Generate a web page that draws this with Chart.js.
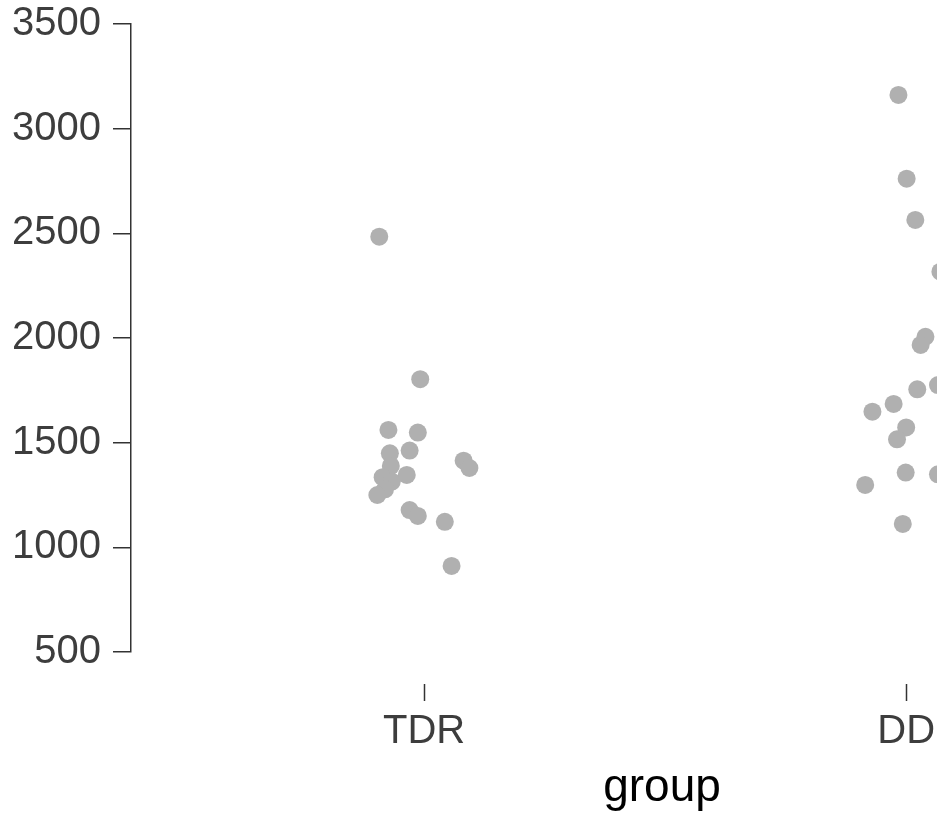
<!DOCTYPE html>
<html>
<head>
<meta charset="utf-8">
<script src="https://cdn.jsdelivr.net/npm/chart.js@4"></script>
<style>
  html, body { margin: 0; background: #fff; overflow: hidden; }
  /* the figure is wider than the window; the right part is cut off */
  #wrap { width: 1193px; height: 816px; }
</style>
</head>
<body>
<div id="wrap"><canvas id="chart"></canvas></div>
<script>
const groups = ["TDR", "DD"];
const yTicks = [500, 1000, 1500, 2000, 2500, 3000, 3500];

// jittered x position around the group index (1 = TDR, 2 = DD), and y value
const tdrX = [0.907, 0.992, 0.926, 0.987, 0.970, 0.929, 1.082, 1.094, 0.931, 0.964,
  0.914, 0.933, 0.919, 0.903, 0.970, 0.987, 1.043, 1.057];
const tdrY = [2484, 1803, 1561, 1548, 1462, 1449, 1414, 1379, 1389, 1346,
  1335, 1314, 1277, 1250, 1178, 1150, 1122, 911];

const ddX = [1.984, 2.001, 2.019, 2.071, 2.040, 2.030, 2.023, 2.066, 1.974, 1.930,
  2.000, 1.981, 1.999, 2.066, 1.915, 1.993];
const ddY = [3161, 2761, 2564, 2317, 2006, 1967, 1755, 1775, 1685, 1648,
  1573, 1516, 1357, 1349, 1298, 1112];

const axisColor = "#333333";
const textColor = "#3d3d3d";
const pointColor = "#b0b0b0";

function toPoints(xs, ys) {
  return xs.map((x, i) => ({ x: x, y: ys[i] }));
}

// small tick marks under each group, set a little below the plot
const xTickMarks = {
  id: "xTickMarks",
  afterDraw(chart) {
    const { ctx, chartArea, scales } = chart;
    ctx.save();
    ctx.strokeStyle = axisColor;
    ctx.lineWidth = 1.5;
    scales.x.ticks.forEach((t) => {
      const px = Math.round(scales.x.getPixelForValue(t.value)) + 0.5;
      ctx.beginPath();
      ctx.moveTo(px, chartArea.bottom + 32);
      ctx.lineTo(px, chartArea.bottom + 49);
      ctx.stroke();
    });
    ctx.restore();
  },
};

new Chart(document.getElementById("chart"), {
  type: "scatter",
  data: {
    datasets: [
      {
        label: "TDR",
        data: toPoints(tdrX, tdrY),
        backgroundColor: pointColor,
        borderWidth: 0,
        pointRadius: 9,
      },
      {
        label: "DD",
        data: toPoints(ddX, ddY),
        backgroundColor: pointColor,
        borderWidth: 0,
        pointRadius: 9,
      },
    ],
  },
  options: {
    responsive: true,
    maintainAspectRatio: false,
    animation: false,
    events: [],
    layout: { autoPadding: false, padding: { top: 24, left: 0, right: 0, bottom: 0 } },
    plugins: {
      legend: { display: false },
      tooltip: { enabled: false },
    },
    scales: {
      x: {
        type: "linear",
        min: 0.392,
        max: 2.595,
        afterBuildTicks: (scale) => {
          scale.ticks = groups.map((g, i) => ({ value: i + 1 }));
        },
        afterFit: (scale) => {
          scale.height = 164;
          scale.paddingLeft = 0;
          scale.paddingRight = 0;
        },
        grid: { display: false, drawTicks: true, tickLength: 50 },
        border: { display: false },
        ticks: {
          autoSkip: false,
          maxRotation: 0,
          padding: 6,
          color: textColor,
          font: { family: "Liberation Sans", size: 40 },
          callback: (v) => groups[v - 1],
        },
        title: {
          display: true,
          text: "group",
          color: "#000",
          padding: { top: 4, bottom: 0 },
          font: { family: "Liberation Sans", size: 46 },
        },
      },
      y: {
        min: 500,
        max: 3500,
        afterBuildTicks: (scale) => {
          scale.ticks = yTicks.map((v) => ({ value: v }));
        },
        afterFit: (scale) => {
          scale.width = 131;
          scale.paddingTop = 0;
          scale.paddingBottom = 0;
        },
        grid: {
          drawOnChartArea: false,
          drawTicks: true,
          tickLength: 18,
          color: axisColor,
          lineWidth: 1.5,
        },
        border: { display: true, color: axisColor, width: 1.5 },
        ticks: {
          padding: 12,
          color: textColor,
          font: { family: "Liberation Sans", size: 40 },
          callback: (v) => String(v),
        },
      },
    },
  },
  plugins: [xTickMarks],
});
</script>
</body>
</html>
